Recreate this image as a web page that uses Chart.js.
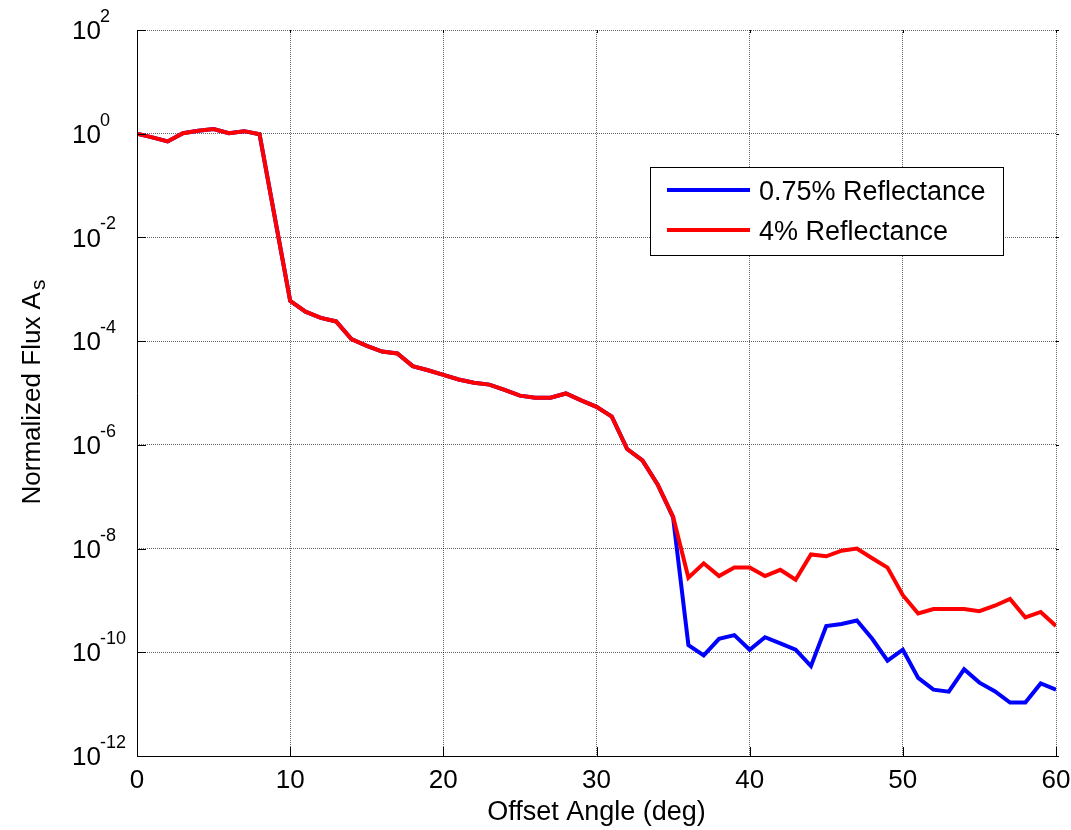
<!DOCTYPE html>
<html>
<head>
<meta charset="utf-8">
<script src="https://cdn.jsdelivr.net/npm/chart.js@4.4.1/dist/chart.umd.min.js"></script>
<style>
  html, body { margin: 0; padding: 0; background: #fff; }
  #wrap { width: 1071px; height: 830px; }
</style>
</head>
<body>
<div id="wrap"><canvas id="myChart"></canvas></div>
<script>
const angles = [0, 1, 2, 3, 4, 5, 6, 7, 8, 9, 10, 11, 12, 13, 14, 15, 16, 17, 18, 19, 20,
  21, 22, 23, 24, 25, 26, 27, 28, 29, 30, 31, 32, 33, 34, 35, 36, 37, 38, 39, 40,
  41, 42, 43, 44, 45, 46, 47, 48, 49, 50, 51, 52, 53, 54, 55, 56, 57, 58, 59, 60];

// 0.75% reflectance
const fluxLow = [1.0, 0.85, 0.71, 1.02, 1.14, 1.23, 1.02, 1.12, 0.98, 2.4e-2,
  6.0e-4, 3.7e-4, 2.8e-4, 2.4e-4, 1.1e-4, 8.1e-5, 6.3e-5, 5.8e-5, 3.3e-5, 2.75e-5,
  2.24e-5, 1.82e-5, 1.58e-5, 1.45e-5, 1.15e-5, 8.9e-6, 8.1e-6, 8.1e-6, 9.8e-6, 7.2e-6,
  5.4e-6, 3.5e-6, 8.3e-7, 5.0e-7, 1.7e-7, 4.0e-8, 1.38e-10, 8.7e-11, 1.82e-10, 2.14e-10,
  1.12e-10, 1.95e-10, 1.48e-10, 1.12e-10, 5.4e-11, 3.2e-10, 3.5e-10, 4.1e-10, 1.82e-10, 6.9e-11,
  1.12e-10, 3.2e-11, 1.9e-11, 1.74e-11, 4.7e-11, 2.6e-11, 1.78e-11, 1.07e-11, 1.07e-11, 2.5e-11,
  1.9e-11];

// 4% reflectance
const fluxHigh = [1.0, 0.85, 0.71, 1.02, 1.14, 1.23, 1.02, 1.12, 0.98, 2.4e-2,
  6.0e-4, 3.7e-4, 2.8e-4, 2.4e-4, 1.1e-4, 8.1e-5, 6.3e-5, 5.8e-5, 3.3e-5, 2.75e-5,
  2.24e-5, 1.82e-5, 1.58e-5, 1.45e-5, 1.15e-5, 8.9e-6, 8.1e-6, 8.1e-6, 9.8e-6, 7.2e-6,
  5.4e-6, 3.5e-6, 8.3e-7, 5.0e-7, 1.7e-7, 4.1e-8, 2.75e-9, 5.2e-9, 2.95e-9, 4.3e-9,
  4.3e-9, 2.95e-9, 3.9e-9, 2.5e-9, 7.7e-9, 7.1e-9, 9.1e-9, 1.0e-8, 6.5e-9, 4.3e-9,
  1.26e-9, 5.6e-10, 6.8e-10, 6.8e-10, 6.8e-10, 6.2e-10, 7.9e-10, 1.07e-9, 4.7e-10, 6.0e-10,
  3.2e-10];

const xTicks = [0, 10, 20, 30, 40, 50, 60];
const yTickExps = [2, 0, -2, -4, -6, -8, -10, -12];

const FONT = '"Liberation Sans", Arial, sans-serif';

const decor = {
  id: 'decor',
  afterDraw(chart) {
    const { ctx, chartArea: a, scales: { x, y } } = chart;
    ctx.save();

    // axes (left + bottom only)
    ctx.strokeStyle = '#000';
    ctx.lineWidth = 1;
    ctx.setLineDash([]);
    ctx.beginPath();
    ctx.moveTo(Math.round(a.left) + 0.5, a.top);
    ctx.lineTo(Math.round(a.left) + 0.5, Math.round(a.bottom) + 0.5);
    ctx.lineTo(a.right, Math.round(a.bottom) + 0.5);
    ctx.stroke();

    // tick marks
    ctx.beginPath();
    xTicks.forEach(v => {
      const px = Math.round(x.getPixelForValue(v)) + 0.5;
      ctx.moveTo(px, a.bottom);
      ctx.lineTo(px, a.bottom - 9);
      ctx.moveTo(px, a.top);
      ctx.lineTo(px, a.top + 3);
    });
    yTickExps.forEach(e => {
      const py = Math.round(y.getPixelForValue(Math.pow(10, e))) + 0.5;
      ctx.moveTo(a.left, py);
      ctx.lineTo(a.left + 9, py);
      ctx.moveTo(a.right, py);
      ctx.lineTo(a.right + 3, py);
    });
    ctx.stroke();

    ctx.fillStyle = '#000';
    // x tick labels
    ctx.font = '26px ' + FONT;
    ctx.textAlign = 'center';
    ctx.textBaseline = 'middle';
    xTicks.forEach(v => ctx.fillText(String(v), x.getPixelForValue(v), a.bottom + 25));

    // y tick labels 10^n
    ctx.textAlign = 'left';
    yTickExps.forEach(e => {
      const py = y.getPixelForValue(Math.pow(10, e));
      ctx.font = '26px ' + FONT;
      ctx.fillText('10', 72, py + 2);
      ctx.font = '18px ' + FONT;
      ctx.fillText(String(e), 100, py - 13);
    });

    // x title
    ctx.font = '27px ' + FONT;
    ctx.textAlign = 'center';
    ctx.fillText('Offset Angle (deg)', (a.left + a.right) / 2, 813);

    // y title with subscript
    ctx.save();
    ctx.translate(40, (a.top + a.bottom) / 2);
    ctx.rotate(-Math.PI / 2);
    ctx.textBaseline = 'alphabetic';
    ctx.textAlign = 'left';
    const main = 'Normalized Flux A';
    ctx.font = '26px ' + FONT;
    const w1 = ctx.measureText(main).width;
    ctx.font = '21px ' + FONT;
    const w2 = ctx.measureText('s').width;
    const start = -(w1 + w2) / 2;
    ctx.font = '26px ' + FONT;
    ctx.fillText(main, start, 0);
    ctx.font = '21px ' + FONT;
    ctx.fillText('s', start + w1 + 2, 5);
    ctx.restore();

    // legend
    const lx = 650, ly = 167, lw = 353, lh = 88;
    ctx.fillStyle = '#fff';
    ctx.fillRect(lx, ly, lw, lh);
    ctx.strokeStyle = '#000';
    ctx.lineWidth = 1;
    ctx.strokeRect(lx + 0.5, ly + 0.5, lw, lh);
    const rows = [190, 230];
    chart.data.datasets.forEach((ds, i) => {
      ctx.strokeStyle = ds.borderColor;
      ctx.lineWidth = 4;
      ctx.beginPath();
      ctx.moveTo(667, rows[i]);
      ctx.lineTo(750, rows[i]);
      ctx.stroke();
      ctx.fillStyle = '#000';
      ctx.font = '27px ' + FONT;
      ctx.textAlign = 'left';
      ctx.textBaseline = 'middle';
      ctx.fillText(ds.label, 759, rows[i] + 3);
    });

    ctx.restore();
  }
};

const ctx = document.getElementById('myChart');
const myChart = new Chart(ctx, {
  type: 'line',
  data: {
    labels: angles,
    datasets: [{
      label: '0.75% Reflectance',
      data: angles.map((a, i) => ({ x: a, y: fluxLow[i] })),
      borderColor: '#0000ff',
      borderWidth: 4,
      pointRadius: 0,
      order: 1
    }, {
      label: '4% Reflectance',
      data: angles.map((a, i) => ({ x: a, y: fluxHigh[i] })),
      borderColor: '#ff0000',
      borderWidth: 4,
      pointRadius: 0,
      order: 0
    }]
  },
  options: {
    responsive: true,
    maintainAspectRatio: false,
    animation: false,
    layout: {
      autoPadding: false,
      padding: { left: 137, top: 30, right: 15, bottom: 74 }
    },
    plugins: {
      legend: { display: false },
      tooltip: { enabled: false }
    },
    scales: {
      x: {
        type: 'linear',
        min: 0,
        max: 60,
        afterBuildTicks: s => { s.ticks = xTicks.map(v => ({ value: v })); },
        ticks: { display: false },
        grid: { drawTicks: false, color: 'rgba(0,0,0,0.6)', lineWidth: 1 },
        border: { display: false, dash: [1, 1] }
      },
      y: {
        type: 'logarithmic',
        min: 1e-12,
        max: 1e2,
        afterBuildTicks: s => { s.ticks = yTickExps.map(e => ({ value: Math.pow(10, e) })); },
        ticks: { display: false },
        grid: { drawTicks: false, color: 'rgba(0,0,0,0.6)', lineWidth: 1 },
        border: { display: false, dash: [1, 1] }
      }
    }
  },
  plugins: [decor]
});
</script>
</body>
</html>
